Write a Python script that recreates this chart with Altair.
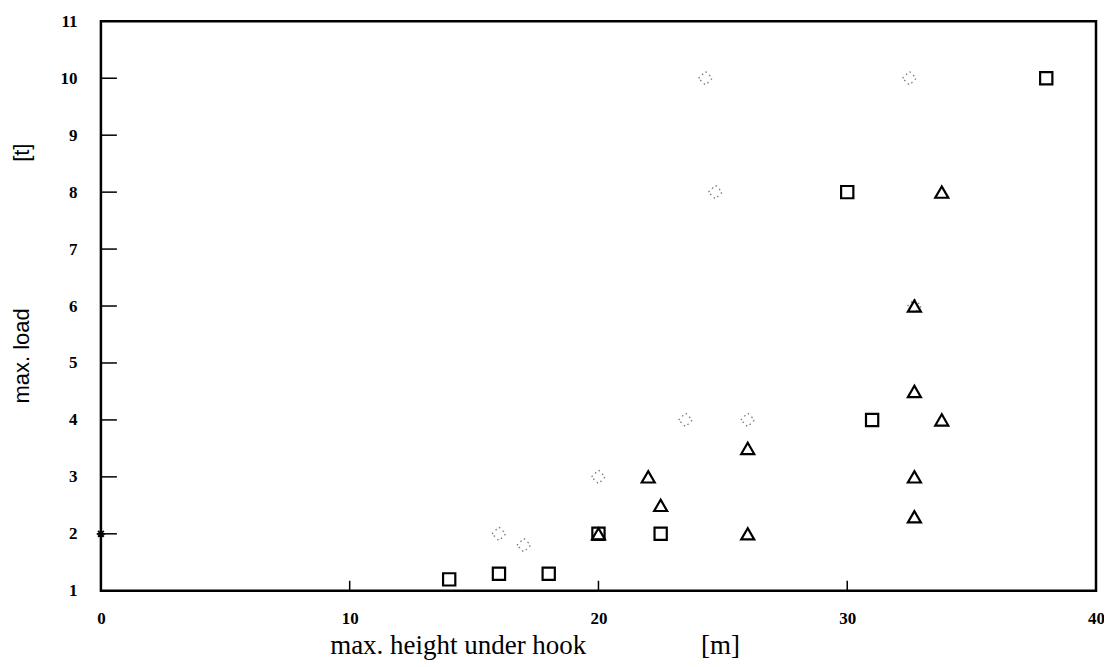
import altair as alt
import pandas as pd

# ---- data ----
square_x = [14, 16, 18, 20, 22.5, 30, 31, 38]
square_y = [1.2, 1.3, 1.3, 2, 2, 8, 4, 10]

triangle_x = [20, 22, 22.5, 26, 26, 32.7, 32.7, 32.7, 32.7, 33.8, 33.8]
triangle_y = [2, 3, 2.5, 3.5, 2, 6, 4.5, 3, 2.3, 8, 4]

diamond_x = [24.3, 24.7, 32.5, 23.5, 26, 20, 16, 17, 32.7]
diamond_y = [10, 8, 10, 4, 4, 3, 2, 1.8, 6]

star_x = [0]
star_y = [2]

x_ticks = [0, 10, 20, 30, 40]
y_ticks = [1, 2, 3, 4, 5, 6, 7, 8, 9, 10, 11]

W, H = 996, 570
SERIF = "Liberation Serif"
SANS = "Liberation Sans"
NB = "\u00a0"

sq = pd.DataFrame({"x": square_x, "y": square_y})
tri = pd.DataFrame({"x": triangle_x, "y": triangle_y})
dia = pd.DataFrame({"x": diamond_x, "y": diamond_y})
star = pd.DataFrame({"x": star_x, "y": star_y})
xt = pd.DataFrame({"v": x_ticks[1:-1]})
yt = pd.DataFrame({"v": y_ticks[1:-1]})

xscale = alt.Scale(domain=[0, 40], nice=False, zero=False)
yscale = alt.Scale(domain=[1, 11], nice=False, zero=False)

xaxis = alt.Axis(
    values=x_ticks, format="d", grid=False, ticks=False, domain=False,
    labelFont=SERIF, labelFontWeight="bold", labelFontSize=17, labelColor="#000",
    labelPadding=20, labelFlush=False,
    title="max. height under hook" + NB * 17 + "[m]", titleFont=SERIF, titleFontSize=27,
    titleFontWeight="normal", titleColor="#000", titleX=434, titleY=55,
    titleBaseline="middle",
)
yaxis = alt.Axis(
    values=y_ticks, format="d", grid=False, ticks=False, domain=False,
    labelFont=SERIF, labelFontWeight="bold", labelFontSize=17, labelColor="#000",
    labelPadding=24,
    title="max. load" + NB * 24 + "[t]", titleFont=SANS, titleFontSize=22,
    titleFontWeight="normal", titleColor="#000", titleX=-79, titleY=252,
    titleBaseline="middle",
)

diamonds = alt.Chart(dia).mark_point(
    shape="diamond", size=190, filled=False, stroke="#777", strokeWidth=1.3,
    strokeDash=[1.5, 3.5], opacity=1,
).encode(x=alt.X("x:Q", scale=xscale, axis=xaxis), y=alt.Y("y:Q", scale=yscale, axis=yaxis))

squares = alt.Chart(sq).mark_point(
    shape="square", size=150, filled=False, stroke="#000", strokeWidth=2.2, opacity=1,
).encode(x=alt.X("x:Q", scale=xscale), y=alt.Y("y:Q", scale=yscale))

triangles = alt.Chart(tri).mark_point(
    shape="triangle-up", size=170, filled=False, stroke="#000", strokeWidth=2.2, opacity=1,
).encode(x=alt.X("x:Q", scale=xscale), y=alt.Y("y:Q", scale=yscale))

stars = alt.Chart(star).mark_point(
    shape="M-1,0L1,0M0,-1L0,1M-0.7,-0.7L0.7,0.7M-0.7,0.7L0.7,-0.7",
    size=70, filled=False, stroke="#000", strokeWidth=1.8, opacity=1,
).encode(x=alt.X("x:Q", scale=xscale), y=alt.Y("y:Q", scale=yscale))

ytick_marks = alt.Chart(yt).mark_rule(color="#000", strokeWidth=1.5).encode(
    y=alt.Y("v:Q", scale=yscale), x=alt.value(0), x2=alt.value(16)
)
xtick_marks = alt.Chart(xt).mark_rule(color="#000", strokeWidth=1.5).encode(
    x=alt.X("v:Q", scale=xscale), y=alt.value(H), y2=alt.value(H - 10)
)

chart = alt.layer(
    diamonds, ytick_marks, xtick_marks, squares, triangles, stars
).properties(
    width=W, height=H,
    autosize=alt.AutoSizeParams(type="none"),
    padding={"left": 93, "top": 13, "right": 8, "bottom": 70},
).configure(
    background="white"
).configure_view(
    stroke="#000", strokeWidth=2.5
)

chart.save("out.html", embed_options={"renderer": "svg", "actions": False})
